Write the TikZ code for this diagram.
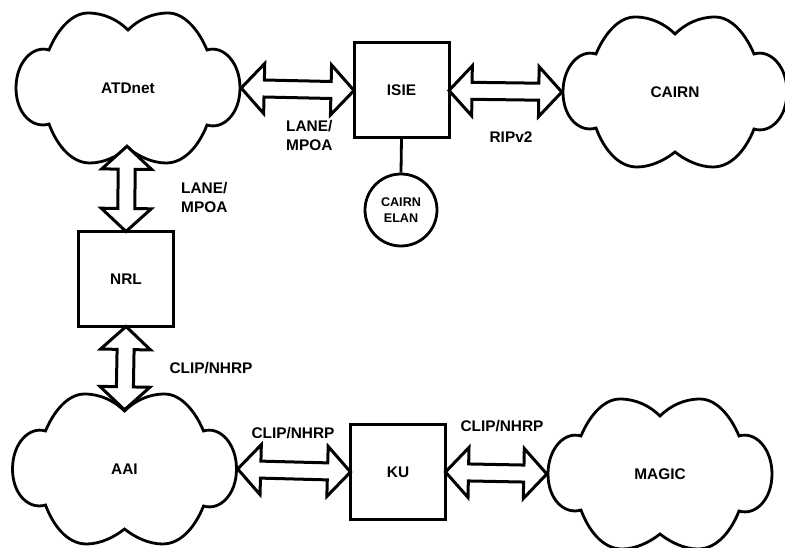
\documentclass[tikz,border=0pt]{standalone}
\usepackage{fontspec}
\setmainfont{Liberation Sans}
\usetikzlibrary{calc}
\tikzset{
  lab/.style={font=\fontsize{15.4}{19}\selectfont\bfseries, inner sep=0pt, align=left},
  smalllab/.style={font=\fontsize{12.6}{16}\selectfont\bfseries, inner sep=0pt, align=center},
  cloudnode/.style={lab, align=center, minimum width=226pt, minimum height=152pt},
  boxnode/.style={lab, align=center, draw=black, line width=3pt, minimum width=95pt, minimum height=95pt, outer sep=0pt},
  elan/.style={smalllab, circle, draw=black, line width=2.8pt, minimum size=72pt},
  cloudline/.style={draw=black, line width=2.8pt, line join=miter},
  fat/.style={draw=black, fill=white, line width=3pt, line join=miter}
}
\newcommand{\cloudoutline}[1]{%
  \draw[cloudline, shift={(#1.center)}]
    (0,-58) .. controls (-10,-68) and (-24,-75) .. (-40,-75)
    .. controls (-58,-75) and (-72,-55) .. (-79,-38)
    .. controls (-95,-43) and (-112,-26) .. (-112,0)
    .. controls (-112,26) and (-95,41) .. (-79,36)
    .. controls (-72,55) and (-58,75) .. (-38,75)
    .. controls (-24,75) and (-10,68) .. (0,60)
    .. controls (10,68) and (24,75) .. (38,75)
    .. controls (58,75) and (72,55) .. (79,37)
    .. controls (95,42) and (112,26) .. (112,0)
    .. controls (112,-26) and (95,-43) .. (79,-38)
    .. controls (72,-55) and (58,-75) .. (40,-75)
    .. controls (24,-75) and (10,-68) .. (0,-58) -- cycle;}
\newcommand{\fatarrow}[2]{%
  \draw[fat]
    (#1)
    -- ($(#1)!23pt!(#2)!25pt!90:(#2)$)
    -- ($(#1)!23pt!(#2)!8.5pt!90:(#2)$)
    -- ($(#2)!23pt!(#1)!8.5pt!-90:(#1)$)
    -- ($(#2)!23pt!(#1)!25pt!-90:(#1)$)
    -- (#2)
    -- ($(#2)!23pt!(#1)!25pt!90:(#1)$)
    -- ($(#2)!23pt!(#1)!8.5pt!90:(#1)$)
    -- ($(#1)!23pt!(#2)!8.5pt!-90:(#2)$)
    -- ($(#1)!23pt!(#2)!25pt!-90:(#2)$)
    -- cycle;}
\begin{document}
\begin{tikzpicture}[x=1pt,y=-1pt]
\useasboundingbox (0,0) rectangle (785,548);
\node[cloudnode] (atd) at (128,88) {ATDnet};
\node[cloudnode] (cairn) at (675,92) {CAIRN};
\node[cloudnode] (aai) at (124.5,469) {AAI};
\node[cloudnode] (magic) at (660,474) {MAGIC};
\cloudoutline{atd}
\cloudoutline{cairn}
\cloudoutline{aai}
\cloudoutline{magic}
\node[boxnode] (isie) at (401.5,90.5) {ISIE};
\node[boxnode] (nrl) at (126,279) {NRL};
\node[boxnode] (ku) at (398,472) {KU};
\node[elan] (elan) at (401,210) {CAIRN\\ELAN};
\coordinate (atdS) at ($(atd.south)+(-1,-18)$);
\coordinate (aaiN) at ($(aai.north)+(0,17)$);
\draw[line width=2.8pt] (isie.south) -- (elan.north);
\fatarrow{atd.east}{isie.west}
\fatarrow{isie.east}{cairn.west}
\fatarrow{atdS}{nrl.north}
\fatarrow{nrl.south}{aaiN}
\fatarrow{aai.east}{ku.west}
\fatarrow{ku.east}{magic.west}
\node[lab, anchor=west] (l1) at (286,135.5) {LANE/\\MPOA};
\node[lab, anchor=west] (l2) at (181,197.5) {LANE/\\MPOA};
\node[lab] (l3) at (511,137) {RIPv2};
\node[lab] (l4) at (211,368) {CLIP/NHRP};
\node[lab] (l5) at (293,433) {CLIP/NHRP};
\node[lab] (l6) at (502,426) {CLIP/NHRP};
\end{tikzpicture}
\end{document}
